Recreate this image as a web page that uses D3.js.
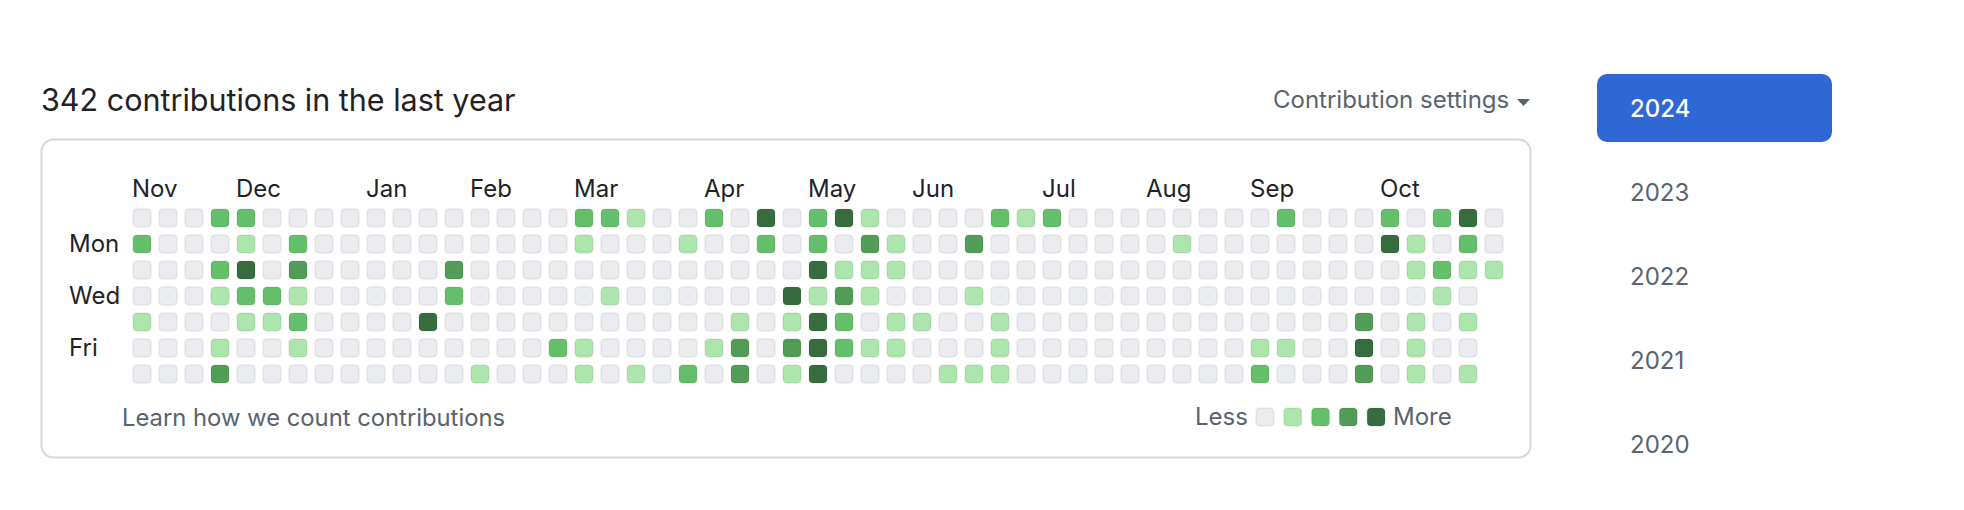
<!DOCTYPE html>
<html>
<head>
<meta charset="utf-8">
<script src="https://cdn.jsdelivr.net/npm/d3@7"></script>
<style>
  html, body { margin: 0; padding: 0; background: #ffffff; }
  svg { display: block; }
  text { font-family: Inter, "Liberation Sans", sans-serif; }
</style>
</head>
<body>
<svg id="chart" width="1964" height="510"></svg>
<script>
// ---------- data ----------
const titleText = "342 contributions in the last year";
const settingsText = "Contribution settings";
const footerText = "Learn how we count contributions";
const monthLabels = ["Nov", "Dec", "Jan", "Feb", "Mar", "Apr", "May", "Jun", "Jul", "Aug", "Sep", "Oct"];
const monthWeeks  = [0, 4, 9, 13, 17, 22, 26, 30, 35, 39, 43, 48];
const dayLabels = ["Mon", "Wed", "Fri"];
const dayRows   = [1, 3, 5];
const years = ["2024", "2023", "2022", "2021", "2020"];
const levels = [0, 1, 2, 3, 4];
const levelColors = ["#ebecf0", "#ace6ad", "#64bf6a", "#519c57", "#366c3e"];

// contribution level per weekday row (Sun..Sat), one value per week column
const sunRow = [0,0,0,2,2,0,0,0,0,0, 0,0,0,0,0,0,0,2,2,1, 0,0,2,0,4,0,2,4,1,0, 0,0,0,2,1,2,0,0,0,0, 0,0,0,0,2,0,0,0,2,0, 2,4,0];
const monRow = [2,0,0,0,1,0,2,0,0,0, 0,0,0,0,0,0,0,1,0,0, 0,1,0,0,2,0,2,0,3,1, 0,0,3,0,0,0,0,0,0,0, 1,0,0,0,0,0,0,0,4,1, 0,2,0];
const tueRow = [0,0,0,2,4,0,3,0,0,0, 0,0,3,0,0,0,0,0,0,0, 0,0,0,0,0,0,4,1,1,1, 0,0,0,0,0,0,0,0,0,0, 0,0,0,0,0,0,0,0,0,1, 2,1,1];
const wedRow = [0,0,0,1,2,2,1,0,0,0, 0,0,2,0,0,0,0,0,1,0, 0,0,0,0,0,4,1,3,1,0, 0,0,1,0,0,0,0,0,0,0, 0,0,0,0,0,0,0,0,0,0, 1,0];
const thuRow = [1,0,0,0,1,1,2,0,0,0, 0,4,0,0,0,0,0,0,0,0, 0,0,0,1,0,1,4,2,0,1, 1,0,0,1,0,0,0,0,0,0, 0,0,0,0,0,0,0,3,0,1, 0,1];
const friRow = [0,0,0,1,0,0,1,0,0,0, 0,0,0,0,0,0,2,1,0,0, 0,0,1,3,0,3,4,2,1,1, 0,0,0,1,0,0,0,0,0,0, 0,0,0,1,1,0,0,4,0,1, 0,0];
const satRow = [0,0,0,3,0,0,0,0,0,0, 0,0,0,1,0,0,0,1,0,1, 0,2,0,3,0,1,4,0,0,0, 0,1,1,1,0,0,0,0,0,0, 0,0,0,2,0,0,0,3,0,1, 0,1];
const weekdayRows = [sunRow, monRow, tueRow, wedRow, thuRow, friRow, satRow];

// ---------- drawing ----------
const svg = d3.select("#chart");
svg.append("rect").attr("width", 1964).attr("height", 510).attr("fill", "#ffffff");

const nWeeks = d3.max(weekdayRows, r => r.length);
const x = d3.scaleBand().domain(d3.range(nWeeks)).range([132, 1504]).paddingInner(6 / 26).paddingOuter(0);
const y = d3.scaleBand().domain(d3.range(7)).range([208, 384]).paddingInner(6 / 26).paddingOuter(0);
const color = d3.scaleOrdinal().domain(levels).range(levelColors);

// title
svg.append("text").attr("x", 41).attr("y", 111)
  .attr("font-size", 30.5).attr("fill", "#1f2328").text(titleText);

// settings
svg.append("text").attr("x", 1273).attr("y", 108)
  .attr("font-size", 24).attr("fill", "#59636e").text(settingsText);
svg.append("path").attr("d", "M1517,99 L1530,99 L1523.5,106 Z").attr("fill", "#59636e");

// container box
svg.append("rect").attr("x", 41.5).attr("y", 139.5).attr("width", 1489).attr("height", 318)
  .attr("rx", 12).attr("fill", "none").attr("stroke", "#d1d9e0").attr("stroke-width", 2);

// month labels
svg.append("g").selectAll("text").data(monthLabels).join("text")
  .attr("x", (d, i) => x(monthWeeks[i]))
  .attr("y", 197)
  .attr("font-size", 24).attr("fill", "#1f2328").text(d => d);

// day labels
svg.append("g").selectAll("text").data(dayLabels).join("text")
  .attr("x", 69)
  .attr("y", (d, i) => y(dayRows[i]) + y.bandwidth() / 2 + 8)
  .attr("font-size", 24).attr("fill", "#1f2328").text(d => d);

// cells
const cells = [];
weekdayRows.forEach((row, r) => row.forEach((v, w) => cells.push({ week: w, day: r, level: v })));
svg.append("g").selectAll("rect").data(cells).join("rect")
  .attr("x", d => x(d.week) + 1)
  .attr("y", d => y(d.day) + 1)
  .attr("width", x.bandwidth() - 2)
  .attr("height", y.bandwidth() - 2)
  .attr("rx", 4)
  .attr("fill", d => color(d.level))
  .attr("stroke", "rgba(27,31,35,0.06)")
  .attr("stroke-width", 2);

// footer
svg.append("text").attr("x", 122).attr("y", 426)
  .attr("font-size", 23.8).attr("fill", "#59636e").text(footerText);

// legend
const lx = d3.scaleBand().domain(levels).range([1255, 1386]).paddingInner(8 / 28);
svg.append("text").attr("x", 1195).attr("y", 425)
  .attr("font-size", 24).attr("fill", "#59636e").text("Less");
svg.append("g").selectAll("rect").data(levels).join("rect")
  .attr("x", d => lx(d) + 1).attr("y", 408)
  .attr("width", lx.bandwidth() - 2).attr("height", 18)
  .attr("rx", 4)
  .attr("fill", d => color(d))
  .attr("stroke", "rgba(27,31,35,0.06)").attr("stroke-width", 2);
svg.append("text").attr("x", 1393).attr("y", 425)
  .attr("font-size", 24).attr("fill", "#59636e").text("More");

// year selector
const yy = d3.scalePoint().domain(years).range([117, 453]);
svg.append("rect").attr("x", 1597).attr("y", 74).attr("width", 235).attr("height", 68)
  .attr("rx", 10).attr("fill", "#2f67d5");
svg.append("g").selectAll("text").data(years).join("text")
  .attr("x", 1630).attr("y", d => yy(d))
  .attr("font-size", 24)
  .attr("font-weight", (d, i) => i === 0 ? 500 : 400)
  .attr("fill", (d, i) => i === 0 ? "#ffffff" : "#59636e")
  .text(d => d);
</script>
</body>
</html>
